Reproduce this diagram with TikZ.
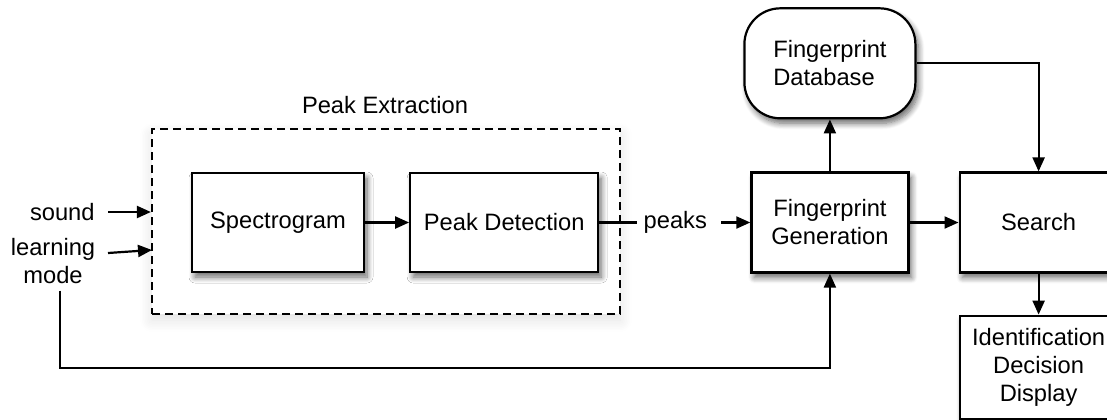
\documentclass[tikz,border=0pt]{standalone}
\usepackage{fontspec}
\setmainfont{Liberation Sans}
\usetikzlibrary{arrows.meta}
\usetikzlibrary{positioning}
\usetikzlibrary{shadows.blur}

\tikzset{
    block/.style={draw, line width=1.1pt, fill=white, align=center,
        minimum height=49.5pt,
        blur shadow={shadow xshift=1.5pt, shadow yshift=-2.5pt,
            shadow blur radius=3pt, shadow blur steps=8, shadow opacity=60}},
    stagebox/.style={draw, line width=1.1pt, dash pattern=on 4pt off 2.5pt,
        fill=white, minimum width=234pt, minimum height=92.5pt,
        blur shadow={shadow xshift=0pt, shadow yshift=-3pt,
            shadow blur radius=6pt, shadow blur steps=8, shadow opacity=12}},
    link/.style={line width=1.1pt, -{Triangle[length=7pt, width=6pt]}},
    wire/.style={line width=1.1pt},
}

\begin{document}
\begin{tikzpicture}[x=0.5pt, y=-0.5pt, font=\fontsize{11.85}{14}\selectfont]
    \useasboundingbox (0,0) rectangle (1107,419);

    % peak extraction stage
    \node[stagebox] (pex) at (386,221.5) {};
    \node (pexlbl) at (385,105) {Peak Extraction};
    \node[block, minimum width=86pt] (spec) at (278,222.5) {Spectrogram};
    \node[block, minimum width=94pt, right=22pt of spec] (peakdet) {Peak Detection};

    % fingerprinting and search
    \node[inner sep=3pt, right=19pt of peakdet] (peaks) {peaks};
    \node[block, minimum width=78.5pt, minimum height=50pt, right=75.5pt of peakdet] (fpgen) {Fingerprint\\Generation};
    \node[block, minimum width=85.5pt, minimum height=55pt, rounded corners=18pt,
        align=left, above=26pt of fpgen] (fpdb) {Fingerprint\\Database};
    \node[block, minimum width=79pt, minimum height=50pt, right=24.5pt of fpgen] (search) {Search};
    \node[block, minimum width=79pt, minimum height=51.5pt, below=20.5pt of search] (ident) {Identification\\Decision\\Display};

    % inputs
    \node[anchor=east, inner sep=0pt] (sound) at (95,212) {sound};
    \node[align=center, inner xsep=0pt, inner ysep=3pt] (lmode) at (53,261.5) {learning\\mode};
    \coordinate (lmout) at (108,253);
    \coordinate (lmin) at (152,250);
    \coordinate (fb) at (60,368);

    \draw[link] ([xshift=6.5pt]sound.east) -- (sound.east -| pex.west);
    \draw[link] (lmout) -- (lmin);
    \draw[link] (spec) -- (peakdet);
    \draw[wire] (peakdet) -- (peaks);
    \draw[link] ([xshift=4pt]peaks.east) -- (fpgen);
    \draw[link] (fpgen) -- (fpdb);
    \draw[link] (fpdb.east) -| (search.north);
    \draw[link] (fpgen) -- (search);
    \draw[link] (search) -- (ident);
    \draw[link] (fb |- lmode.south) -- (fb) -| (fpgen.south);
\end{tikzpicture}
\end{document}
